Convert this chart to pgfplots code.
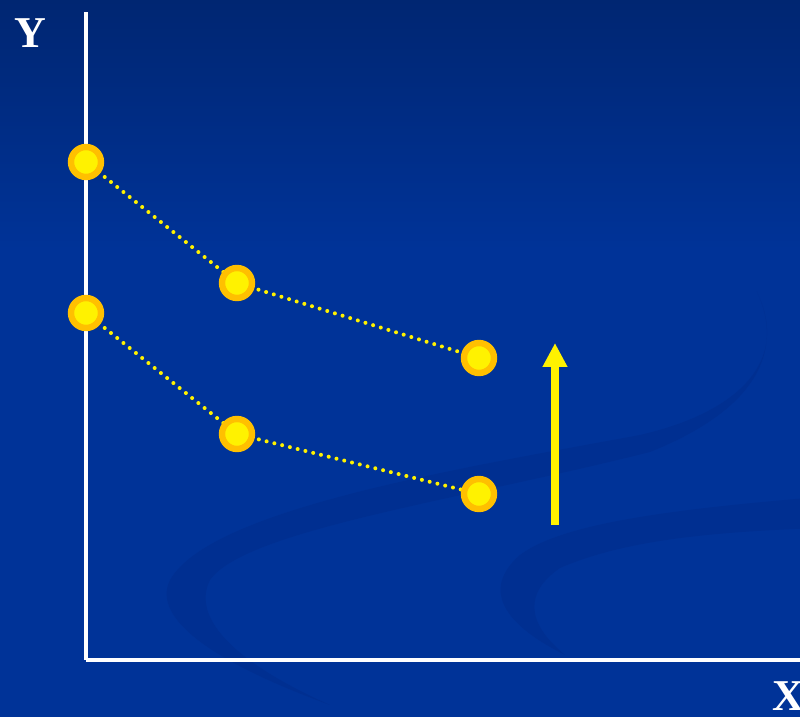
\documentclass[border=0pt]{standalone}
\usepackage{pgfplots}
\pgfplotsset{compat=1.18}
\usepackage{fontspec}
\setmainfont{Liberation Serif}
\usetikzlibrary{arrows.meta}
\definecolor{bgtop}{RGB}{0,38,114}
\definecolor{bgbot}{RGB}{0,51,152}
\definecolor{swirl}{RGB}{0,42,134}
\definecolor{ring}{RGB}{255,192,0}
\begin{document}
\begin{tikzpicture}
\useasboundingbox (-43pt,-28.5pt) rectangle (357pt,330pt);
\clip (-43pt,-28.5pt) rectangle (357pt,330pt);
\begin{scope}[x=0.5pt,y=-0.5pt,shift={(-43pt,330pt)}]
\fill[bgbot] (0,0) rectangle (800,717);
\shade[top color=bgtop, bottom color=bgbot] (0,0) rectangle (800,250);
\fill[swirl, opacity=0.38] (330,705) .. controls (220,665) and (150,620) .. (170,580)
  .. controls (210,510) and (450,470) .. (640,435)
  .. controls (740,412) and (790,360) .. (757,292)
  .. controls (785,352) and (755,410) .. (650,452)
  .. controls (460,500) and (245,530) .. (210,580)
  .. controls (190,620) and (240,665) .. (330,705) -- cycle;
\fill[swirl, opacity=0.38] (820,497) .. controls (660,510) and (560,525) .. (520,555)
  .. controls (480,590) and (505,625) .. (565,655)
  .. controls (525,622) and (525,592) .. (560,568)
  .. controls (625,540) and (710,532) .. (820,528) -- cycle;
\end{scope}
\begin{axis}[
  scale only axis, width=357pt, height=324pt,
  xmin=0, xmax=714, ymin=0, ymax=648,
  axis lines=left,
  axis line style={white, line width=1.8pt, -},
  ticks=none, clip=false,
  xlabel={X}, ylabel={Y},
  every axis x label/.style={at={(axis cs:702,-51)}, anchor=base, font=\fontsize{22}{24}\selectfont\bfseries, text=white},
  every axis y label/.style={at={(axis cs:-56,612)}, anchor=base, font=\fontsize{22}{24}\selectfont\bfseries, text=white},
]
\addplot[yellow, line width=2pt, line cap=round, dash pattern=on 0pt off 4pt,
  mark=*, mark size=7.5pt, mark options={solid, fill=yellow, draw=ring, line width=3.2pt}]
  coordinates {(0,498) (151,377) (393,302)};
\addplot[yellow, line width=2pt, line cap=round, dash pattern=on 0pt off 4pt,
  mark=*, mark size=7.5pt, mark options={solid, fill=yellow, draw=ring, line width=3.2pt}]
  coordinates {(0,347) (151,226) (393,166)};
\addplot[yellow, line width=3.8pt, -{Triangle[width=11.7pt,length=12pt]}]
  coordinates {(469,135) (469,317)};
\end{axis}
\end{tikzpicture}
\end{document}
